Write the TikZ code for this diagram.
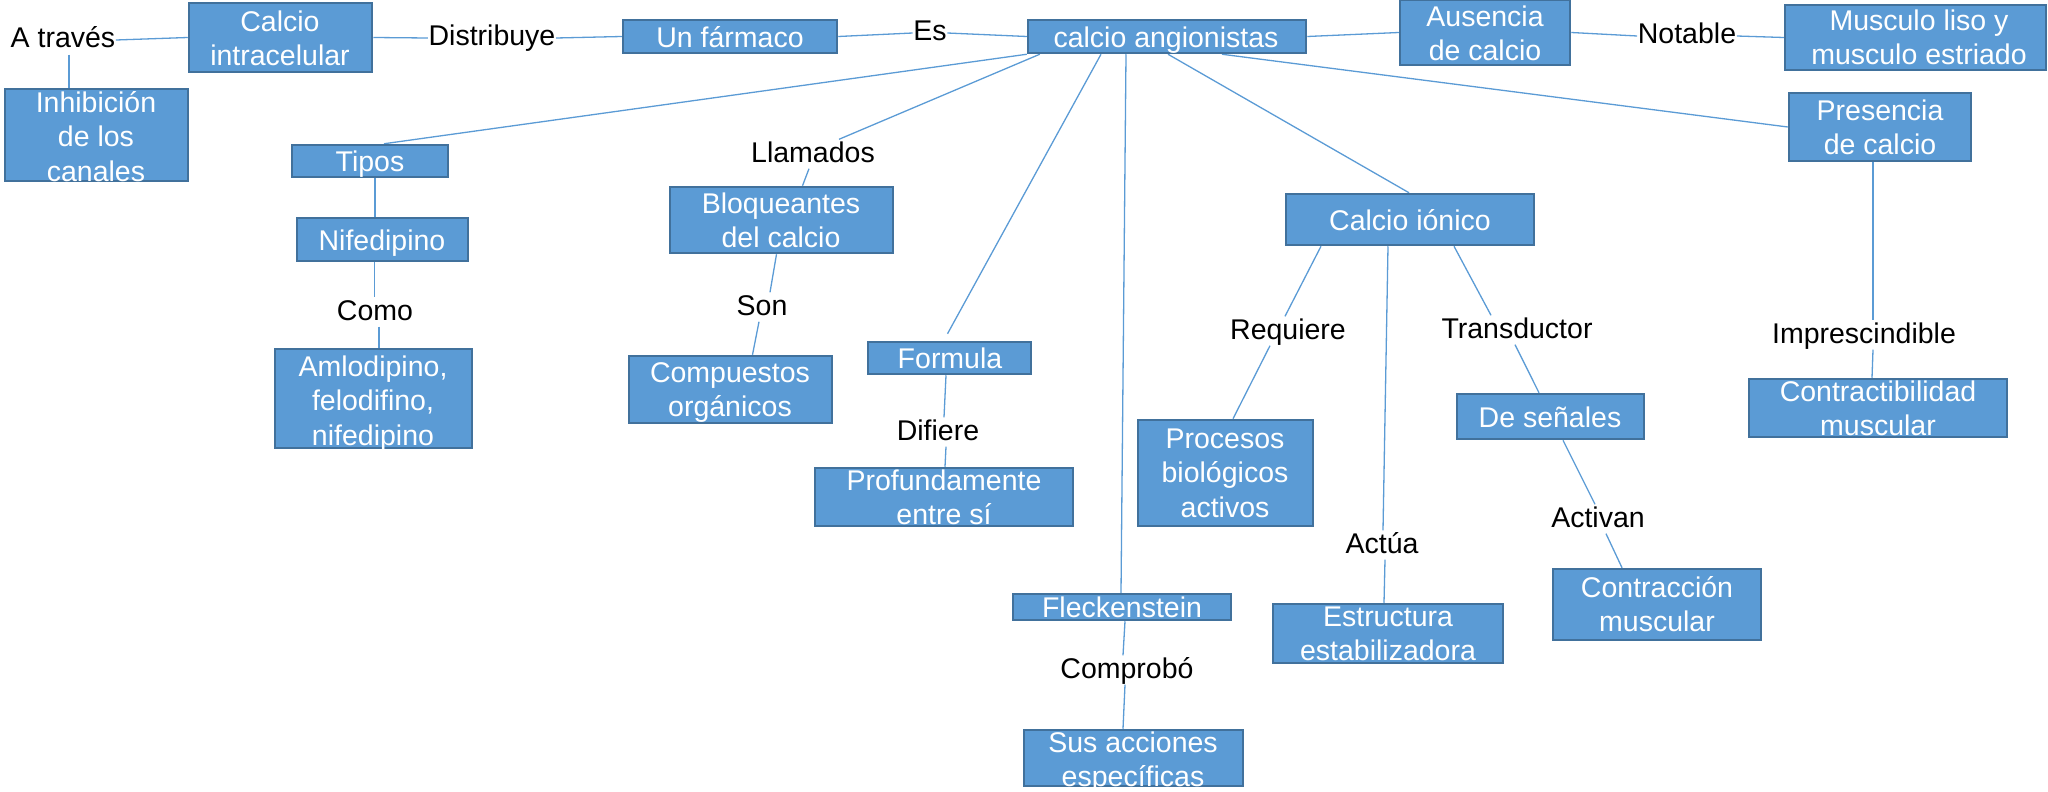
\documentclass[tikz,border=0pt]{standalone}
\usepackage{fontspec}
\setmainfont{Liberation Sans}
\usetikzlibrary{calc,backgrounds}
\definecolor{bfill}{HTML}{5B9BD5}
\definecolor{bdraw}{HTML}{41719C}
\definecolor{lnk}{HTML}{5B9BD5}
\newcommand\ff{\fontsize{28.5}{34.5}\selectfont}
\newcommand\cbx[5]{\node[cbox, minimum width=#4pt, minimum height=#5pt] (#1) at (#2,#3) {};}
\begin{document}
\begin{tikzpicture}[x=1pt,y=-1pt,
  cbox/.style={draw=bdraw, fill=bfill, line width=2.5pt, inner sep=0pt},
  wtxt/.style={text=white, font=\ff, align=center, inner sep=0pt, anchor=north},
  lbl/.style={text=black, font=\ff, inner sep=0.5pt, text height=22pt, text depth=6pt, anchor=base},
  link/.style={draw=lnk, line width=1.3pt}]
\useasboundingbox (0,0) rectangle (2048,792);
% boxes
\cbx{cai}{280.5}{37.5}{183}{69}
\cbx{inh}{96.5}{135}{183}{92}
\cbx{far}{730}{36.5}{214}{33}
\cbx{ang}{1167}{36.5}{278}{33}
\cbx{aus}{1485}{32.5}{170}{65}
\cbx{mus}{1915.5}{37.5}{261}{65}
\cbx{pre}{1880}{127}{182}{68}
\cbx{tip}{370}{161}{156}{32}
\cbx{nif}{382.5}{239.5}{171}{43}
\cbx{aml}{373.5}{398.5}{197}{99}
\cbx{blo}{781.5}{220}{223}{66}
\cbx{cpo}{730.5}{389.5}{203}{67}
\cbx{frm}{949.5}{358}{163}{32}
\cbx{prf}{944}{497}{258}{58}
\cbx{ion}{1410}{219.5}{248}{51}
\cbx{prc}{1225.5}{473}{175}{106}
\cbx{sen}{1550.5}{416.5}{187}{45}
\cbx{ctb}{1878}{408}{258}{58}
\cbx{fle}{1122}{607}{218}{26}
\cbx{sus}{1133.5}{758}{219}{56}
\cbx{est}{1388}{633.5}{230}{59}
\cbx{ctr}{1657}{604.5}{208}{71}
% box texts
\node[wtxt] (cai-t) at (280,7) {\strut Calcio\\\strut intracelular};
\node[wtxt] (inh-t) at (96,88) {\strut Inhibición\\\strut de los\\\strut canales};
\node[wtxt] (far-t) at (730,23) {\strut Un fármaco};
\node[wtxt] (ang-t) at (1166,23) {\strut calcio angionistas};
\node[wtxt] (aus-t) at (1485,2) {\strut Ausencia\\\strut de calcio};
\node[wtxt] (mus-t) at (1919,6) {\strut Musculo liso y\\\strut musculo estriado};
\node[wtxt] (pre-t) at (1880,96) {\strut Presencia\\\strut de calcio};
\node[wtxt] (tip-t) at (370,147) {\strut Tipos};
\node[wtxt] (nif-t) at (382,226) {\strut Nifedipino};
\node[wtxt] (aml-t) at (373,352) {\strut Amlodipino,\\\strut felodifino,\\\strut nifedipino};
\node[wtxt] (blo-t) at (781,189) {\strut Bloqueantes\\\strut del calcio};
\node[wtxt] (cpo-t) at (730,358) {\strut Compuestos\\\strut orgánicos};
\node[wtxt] (frm-t) at (950,344) {\strut Formula};
\node[wtxt] (prf-t) at (944,466) {\strut Profundamente\\\strut entre sí};
\node[wtxt] (ion-t) at (1410,206) {\strut Calcio iónico};
\node[wtxt] (prc-t) at (1225,424) {\strut Procesos\\\strut biológicos\\\strut activos};
\node[wtxt] (sen-t) at (1550,403) {\strut De señales};
\node[wtxt] (ctb-t) at (1878,377) {\strut Contractibilidad\\\strut muscular};
\node[wtxt] (fle-t) at (1122,593) {\strut Fleckenstein};
\node[wtxt] (sus-t) at (1133,728) {\strut Sus acciones\\\strut específicas};
\node[wtxt] (est-t) at (1388,602) {\strut Estructura\\\strut estabilizadora};
\node[wtxt] (ctr-t) at (1657,573) {\strut Contracción\\\strut muscular};
% labels
\node[lbl] (atr) at (63,48) {A través};
\node[lbl] (dis) at (492,46) {Distribuye};
\node[lbl] (es) at (930,41) {Es};
\node[lbl] (lla) at (813,162) {Llamados};
\node[lbl] (ntb) at (1687,44) {Notable};
\node[lbl] (como) at (375,320) {Como};
\node[lbl] (son) at (762,315) {Son};
\node[lbl] (dif) at (938,440) {Difiere};
\node[lbl] (req) at (1288,339) {Requiere};
\node[lbl] (tra) at (1517,338) {Transductor};
\node[lbl] (imp) at (1864,343) {Imprescindible};
\node[lbl] (cpb) at (1127,678) {Comprobó};
\node[lbl] (act) at (1382,553) {Actúa};
\node[lbl] (acv) at (1598,527) {Activan};
% connectors
\begin{pgfonlayer}{background}
\draw[link] (atr.east) -- (cai.west);
\draw[link] ([xshift=6pt]atr.south) -- ([xshift=6pt]atr.south |- inh.north);
\draw[link] (cai.east) -- (dis.west);
\draw[link] (dis.east) -- (far.west);
\draw[link] (far.east) -- (es.west);
\draw[link] (es.east) -- (ang.west);
\draw[link] (ang.east) -- (aus.west);
\draw[link] (aus.east) -- (ntb.west);
\draw[link] (ntb.east) -- (mus.west);
\draw[link] (ang.south west) -- ([xshift=14pt]tip.north);
\draw[link] ([xshift=5pt]tip.south) -- ([xshift=5pt]tip.south |- nif.north);
\draw[link] ([xshift=-8pt]nif.south) -- ([xshift=-8pt]nif.south |- como.north);
\draw[link] ([xshift=4pt]como.south) -- ([xshift=4pt]como.south |- aml.north);
\draw[link] ([xshift=13pt]ang.south west) -- ([xshift=26pt]lla.north);
\draw[link] ([xshift=-4pt]lla.south) -- ([xshift=21pt]blo.north);
\draw[link] ([xshift=-5pt]blo.south) -- ([xshift=8pt]son.north);
\draw[link] ([xshift=-3pt]son.south) -- ([xshift=22pt]cpo.north);
\draw[link] ([xshift=-66pt]ang.south) -- ([xshift=-2pt,yshift=7pt]frm.north);
\draw[link] ([xshift=-3.5pt]frm.south) -- ([xshift=6pt]dif.north);
\draw[link] ([xshift=8pt]dif.south) -- ([xshift=1pt]prf.north);
\draw[link] ([xshift=-41pt]ang.south) -- ([xshift=-1pt]fle.north);
\draw[link] ([xshift=3pt]fle.south) -- ([xshift=-4pt]cpb.north);
\draw[link] ([xshift=-2pt]cpb.south) -- ([xshift=-10.5pt]sus.north);
\draw[link] ([xshift=1pt]ang.south) -- ([xshift=-1pt]ion.north);
\draw[link] ([xshift=-89pt]ion.south) -- ([xshift=-3pt]req.north);
\draw[link] ([xshift=-18pt]req.south) -- ([xshift=7.5pt]prc.north);
\draw[link] ([xshift=-22pt]ion.south) -- ([xshift=1pt]act.north);
\draw[link] ([xshift=3pt]act.south) -- ([xshift=-4pt]est.north);
\draw[link] ([xshift=44pt]ion.south) -- ([xshift=-26pt]tra.north);
\draw[link] ([xshift=-2pt]tra.south) -- ([xshift=-11.5pt]sen.north);
\draw[link] ([xshift=12.5pt]sen.south) -- ([xshift=-3pt]acv.north);
\draw[link] ([xshift=8pt]acv.south) -- ([xshift=-35pt]ctr.north);
\draw[link] ([xshift=55pt]ang.south) -- (pre.west);
\draw[link] ([xshift=-7pt]pre.south) -- ([xshift=9pt]imp.north);
\draw[link] ([xshift=9pt]imp.south) -- ([xshift=-6pt]ctb.north);
\end{pgfonlayer}
\end{tikzpicture}
\end{document}
